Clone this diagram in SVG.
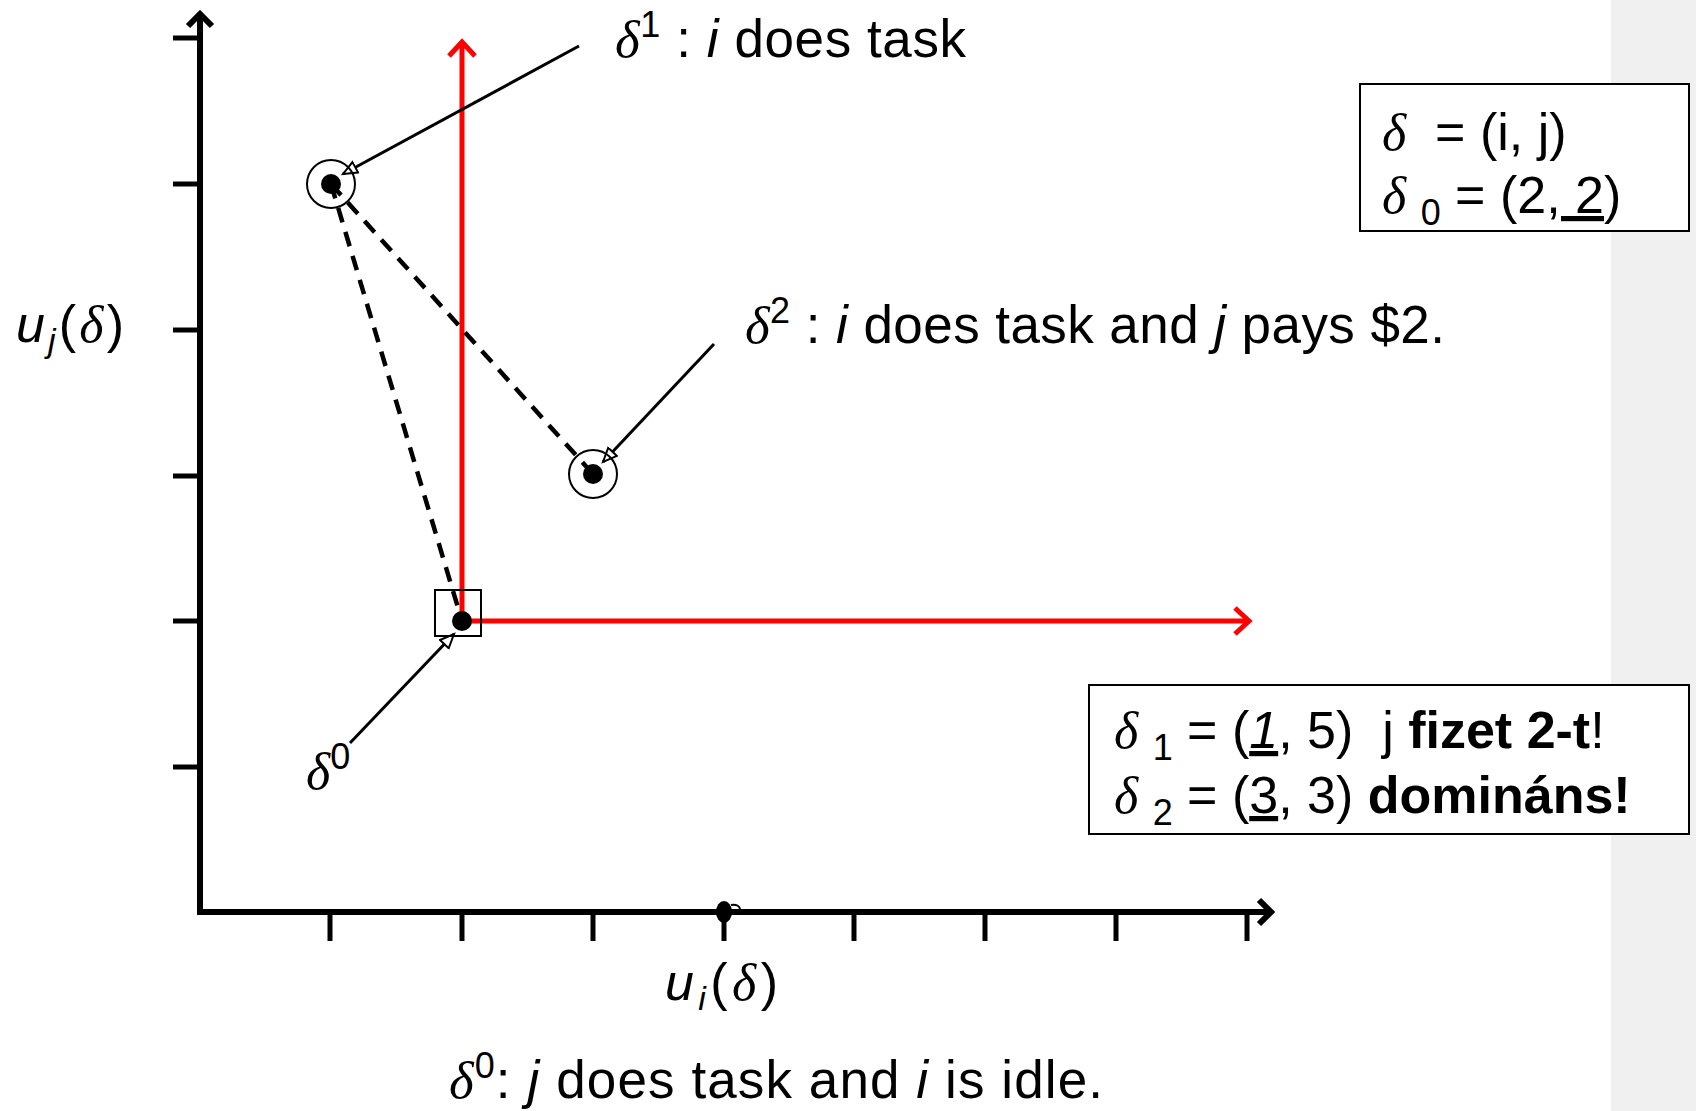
<svg xmlns="http://www.w3.org/2000/svg" width="1696" height="1111" viewBox="0 0 1696 1111">
<style>
.t{font-family:"Liberation Sans",Arial,sans-serif;fill:#000}
.m{font-family:"Liberation Serif","Times New Roman",serif;font-style:italic}
.it{font-style:italic}
.b{font-weight:bold}
.u{text-decoration:underline}
.axis{stroke:#000;stroke-width:6;fill:none}
.tick{stroke:#000;stroke-width:5}
.red{stroke:#ff0000;stroke-width:5;fill:none}
.dash{stroke:#000;stroke-width:4.5;stroke-dasharray:15 10;fill:none}
.lead{stroke:#000;stroke-width:3;fill:none}
.box{fill:#fff;stroke:#000;stroke-width:2}
</style>
<defs>
<marker id="ah" markerUnits="userSpaceOnUse" markerWidth="20" markerHeight="16" refX="15" refY="7" orient="auto">
<path d="M1,1 L15,7 L1,13 Z" fill="#fff" stroke="#000" stroke-width="2"/>
</marker>
</defs>
<rect x="0" y="0" width="1696" height="1111" fill="#fff"/>
<rect x="1611" y="0" width="85" height="1111" fill="#f0f0f0"/>

<g id="axes">
<line class="axis" x1="200" y1="915" x2="200" y2="14"/>
<polyline class="axis" points="188,26 200,14 212,26" stroke-width="5"/>
<line class="axis" x1="197" y1="912" x2="1270" y2="912"/>
<polyline class="axis" points="1259,900 1271,912 1259,924" stroke-width="4"/>
<g class="tick">
<line x1="173" y1="38" x2="200" y2="38"/>
<line x1="173" y1="184" x2="200" y2="184"/>
<line x1="173" y1="330" x2="200" y2="330"/>
<line x1="173" y1="476" x2="200" y2="476"/>
<line x1="173" y1="621" x2="200" y2="621"/>
<line x1="173" y1="767" x2="200" y2="767"/>
<line x1="330" y1="912" x2="330" y2="941"/>
<line x1="462" y1="912" x2="462" y2="941"/>
<line x1="593" y1="912" x2="593" y2="941"/>
<line x1="724" y1="912" x2="724" y2="941"/>
<line x1="854" y1="912" x2="854" y2="941"/>
<line x1="985" y1="912" x2="985" y2="941"/>
<line x1="1116" y1="912" x2="1116" y2="941"/>
<line x1="1247" y1="912" x2="1247" y2="941"/>
</g>
<ellipse cx="724" cy="912" rx="8" ry="11" fill="#000"/>
<path d="M731,905 Q740,904 740,910" stroke="#000" stroke-width="2" fill="none"/>
<text class="t" x="16" y="342" font-size="52" textLength="108" lengthAdjust="spacing"><tspan class="it">u</tspan><tspan class="it" font-size="34" dy="10">j</tspan><tspan dy="-10">(</tspan><tspan class="m">δ</tspan>)</text>
<text class="t" x="665" y="1000" font-size="52" textLength="113" lengthAdjust="spacing"><tspan class="it">u</tspan><tspan class="it" font-size="34" dy="10">i</tspan><tspan dy="-10">(</tspan><tspan class="m">δ</tspan>)</text>
</g>

<g id="red-region">
<line class="red" x1="462" y1="621" x2="462" y2="43"/>
<polyline class="red" points="449,56 462,42 475,56"/>
<line class="red" x1="462" y1="621" x2="1247" y2="621"/>
<polyline class="red" points="1235,608 1249,621 1235,634"/>
</g>

<g id="connectors">
<line class="dash" x1="331" y1="184" x2="593" y2="474"/>
<line class="dash" x1="331" y1="184" x2="462" y2="621"/>
<line class="lead" x1="579" y1="46" x2="343" y2="174" marker-end="url(#ah)"/>
<line class="lead" x1="714" y1="344" x2="603" y2="462" marker-end="url(#ah)"/>
<line class="lead" x1="350" y1="743" x2="454" y2="634" marker-end="url(#ah)"/>
</g>

<g id="node-d1">
<circle cx="331" cy="184" r="24" fill="none" stroke="#000" stroke-width="2"/>
<circle cx="331" cy="184" r="10" fill="#000"/>
<text class="t" x="615" y="57" font-size="53" textLength="351" lengthAdjust="spacing"><tspan class="m">δ</tspan><tspan font-size="36" dy="-20">1</tspan><tspan dy="20" xml:space="preserve"> : </tspan><tspan class="it">i</tspan> does task</text>
</g>

<g id="node-d2">
<circle cx="593" cy="474" r="24" fill="none" stroke="#000" stroke-width="2"/>
<circle cx="593" cy="474" r="10" fill="#000"/>
<text class="t" x="745" y="343" font-size="53" textLength="700" lengthAdjust="spacing"><tspan class="m">δ</tspan><tspan font-size="36" dy="-20">2</tspan><tspan dy="20" xml:space="preserve"> : </tspan><tspan class="it">i</tspan> does task and <tspan class="it">j</tspan> pays $2.</text>
</g>

<g id="node-d0">
<rect x="435" y="590" width="46" height="46" fill="none" stroke="#000" stroke-width="2"/>
<circle cx="462" cy="621" r="10" fill="#000"/>
<text class="t" x="306" y="789" font-size="52"><tspan class="m">δ</tspan><tspan font-size="36" dy="-20">0</tspan></text>
<text class="t" x="449" y="1098" font-size="53" textLength="654" lengthAdjust="spacing"><tspan class="m">δ</tspan><tspan font-size="36" dy="-20">0</tspan><tspan dy="20">: </tspan><tspan class="it">j</tspan> does task and <tspan class="it">i</tspan> is idle.</text>
</g>

<g id="box-def">
<rect class="box" x="1360" y="84" width="329" height="147"/>
<text class="t" x="1382" y="150" font-size="52" xml:space="preserve"><tspan class="m">δ</tspan>  = (i, <tspan class="u">j</tspan>)</text>
<text class="t" x="1382" y="213" font-size="52" xml:space="preserve"><tspan class="m">δ</tspan> <tspan font-size="36" dy="12">0</tspan><tspan dy="-12"> = (2</tspan><tspan class="u">, 2</tspan>)</text>
</g>

<g id="box-result">
<rect class="box" x="1089" y="685" width="600" height="149"/>
<text class="t" x="1114" y="748" font-size="52" xml:space="preserve"><tspan class="m">δ</tspan> <tspan font-size="36" dy="12">1</tspan><tspan dy="-12"> = (</tspan><tspan class="u it">1</tspan>, 5)  j <tspan class="b">fizet 2-t</tspan>!</text>
<text class="t" x="1114" y="813" font-size="52" xml:space="preserve"><tspan class="m">δ</tspan> <tspan font-size="36" dy="12">2</tspan><tspan dy="-12"> = (</tspan><tspan class="u">3</tspan>, 3) <tspan class="b">domináns!</tspan></text>
</g>
</svg>
